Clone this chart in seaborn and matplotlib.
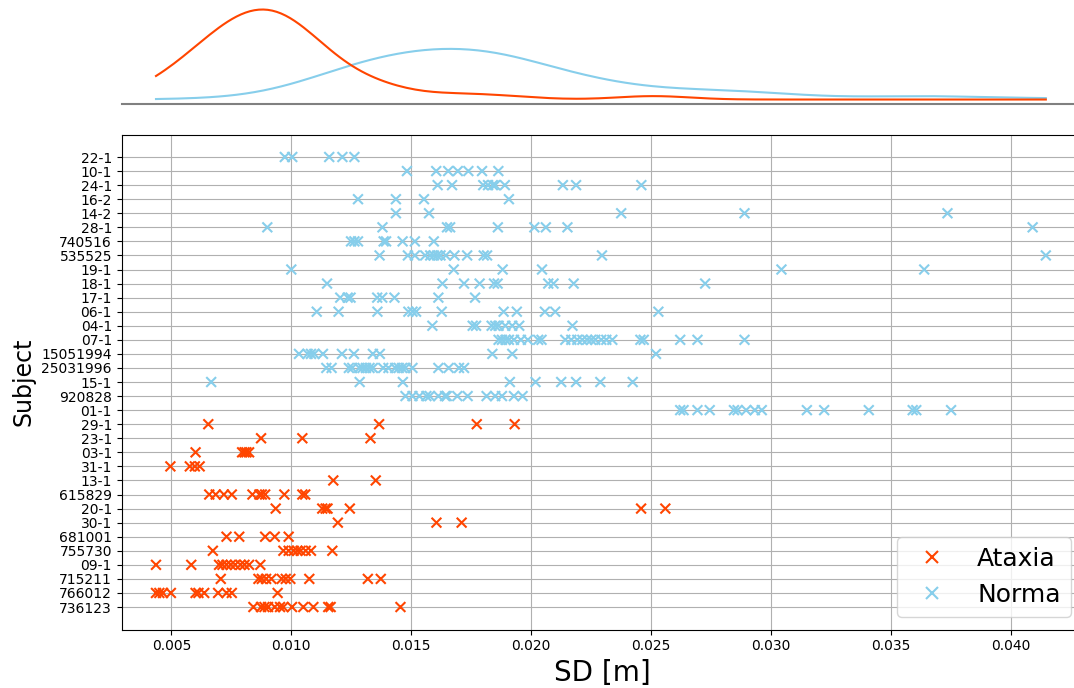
import numpy as np
import pandas as pd
import matplotlib
matplotlib.use("Agg")
import matplotlib.pyplot as plt
import seaborn as sns
from matplotlib.ticker import MultipleLocator

# ---- data ----
groups = ["Ataxia", "Norma"]
colors = ["#FF4500", "#87CEEB"]

ataxia_subjects = ["736123", "766012", "715211", "09-1", "755730", "681001", "30-1",
                   "20-1", "615829", "13-1", "31-1", "03-1", "23-1", "29-1"]
ataxia_values = [
    [0.00842, 0.00874, 0.00888, 0.00903, 0.00931, 0.00953, 0.00967, 0.01003, 0.0105, 0.01092, 0.01154, 0.01164, 0.01455],
    [0.00436, 0.0045, 0.00465, 0.00498, 0.00601, 0.00613, 0.00637, 0.00695, 0.0073, 0.00752, 0.00943],
    [0.00706, 0.00863, 0.00877, 0.00895, 0.00917, 0.0096, 0.00977, 0.00996, 0.01075, 0.01319, 0.01373],
    [0.00436, 0.00583, 0.00699, 0.00713, 0.0073, 0.00748, 0.00766, 0.00788, 0.00805, 0.00824, 0.00871],
    [0.00673, 0.00967, 0.00989, 0.0101, 0.01025, 0.01039, 0.0106, 0.01082, 0.01171],
    [0.0073, 0.00783, 0.00891, 0.00931, 0.00989],
    [0.01194, 0.01605, 0.0171],
    [0.00935, 0.01129, 0.01143, 0.01151, 0.01244, 0.02458, 0.02559],
    [0.00658, 0.00685, 0.00719, 0.00752, 0.00838, 0.00867, 0.00877, 0.00891, 0.00971, 0.01046, 0.01058],
    [0.01175, 0.01352],
    [0.00496, 0.00577, 0.00598, 0.00618],
    [0.00601, 0.00795, 0.00805, 0.00813, 0.00824],
    [0.00874, 0.01046, 0.0133],
    [0.00654, 0.01366, 0.01773, 0.01931],
]

norma_subjects = ["01-1", "920828", "15-1", "25031996", "15051994", "07-1", "04-1",
                  "06-1", "17-1", "18-1", "19-1", "535525", "740516", "28-1",
                  "14-2", "16-2", "24-1", "10-1", "22-1"]
norma_values = [
    [0.02621, 0.02635, 0.02693, 0.02744, 0.02845, 0.0286, 0.02896, 0.02932, 0.02961, 0.03149, 0.03221, 0.03407, 0.0359, 0.03605, 0.0375],
    [0.01476, 0.01505, 0.01534, 0.01563, 0.01577, 0.01613, 0.01641, 0.01648, 0.01692, 0.01735, 0.01814, 0.0185, 0.01878, 0.01928, 0.01964],
    [0.00666, 0.01285, 0.01465, 0.01911, 0.02018, 0.02125, 0.02187, 0.02288, 0.02423],
    [0.01146, 0.01168, 0.0124, 0.01254, 0.01283, 0.01297, 0.01311, 0.01326, 0.0134, 0.01383, 0.01405, 0.01433, 0.01448, 0.01462, 0.01476, 0.01505, 0.01613, 0.01656, 0.01699, 0.0172],
    [0.01032, 0.01068, 0.01082, 0.01096, 0.01132, 0.01211, 0.01261, 0.0134, 0.01369, 0.01838, 0.01921, 0.0252],
    [0.01864, 0.01878, 0.01893, 0.01907, 0.01928, 0.01957, 0.01986, 0.02029, 0.02043, 0.02142, 0.02167, 0.02192, 0.02213, 0.02233, 0.0225, 0.02267, 0.02292, 0.02313, 0.02338, 0.02455, 0.02469, 0.02621, 0.02693, 0.02889],
    [0.01588, 0.01756, 0.0177, 0.01835, 0.0185, 0.01864, 0.01892, 0.01921, 0.0195, 0.02172],
    [0.01106, 0.01197, 0.01359, 0.01488, 0.01505, 0.0152, 0.01627, 0.01885, 0.0194, 0.02057, 0.021, 0.0253],
    [0.01204, 0.01235, 0.01247, 0.01358, 0.01379, 0.0143, 0.01613, 0.01766],
    [0.01149, 0.0163, 0.0172, 0.01785, 0.01845, 0.0186, 0.02071, 0.02093, 0.02177, 0.02725],
    [0.01, 0.01677, 0.01881, 0.02045, 0.03043, 0.03638],
    [0.01368, 0.01486, 0.01515, 0.01558, 0.01579, 0.01594, 0.01608, 0.01622, 0.01644, 0.0168, 0.01733, 0.01802, 0.01816, 0.02295, 0.04145],
    [0.01249, 0.01263, 0.01278, 0.01385, 0.01395, 0.01464, 0.01515, 0.01594],
    [0.009, 0.0138, 0.01649, 0.01662, 0.01861, 0.02013, 0.02061, 0.02151, 0.0409],
    [0.01436, 0.01574, 0.02375, 0.02889, 0.03735],
    [0.01278, 0.01436, 0.01553, 0.01907],
    [0.0161, 0.0167, 0.018, 0.0182, 0.0184, 0.0185, 0.0189, 0.02132, 0.02187, 0.02459],
    [0.01482, 0.01604, 0.01654, 0.01694, 0.01738, 0.01795, 0.01863],
    [0.00973, 0.01004, 0.01158, 0.01213, 0.01263],
]

x_ticks = [0.005, 0.010, 0.015, 0.020, 0.025, 0.030, 0.035, 0.040]

# ---- build long table ----
rows = []
for grp, subs, vals in [("Ataxia", ataxia_subjects, ataxia_values),
                        ("Norma", norma_subjects, norma_values)]:
    for s, vs in zip(subs, vals):
        for v in vs:
            rows.append({"Subject": s, "SD": v, "Group": grp})
df = pd.DataFrame(rows)

# ---- figure ----
plt.rcParams["font.family"] = ["DejaVu Sans"]
fig = plt.figure(figsize=(10.74, 6.88), dpi=100)
ax = fig.add_axes([0.1133, 0.0850, 0.8951, 0.7195])
ax_top = fig.add_axes([0.1133, 0.8488, 0.8951, 0.1439], sharex=ax)

palette = dict(zip(groups, colors))

sns.scatterplot(data=df, x="SD", y="Subject", hue="Group", palette=palette,
                marker="x", s=50, linewidth=1.5, ax=ax, zorder=3)
# first subject at the bottom, as in the reference
if ax.yaxis_inverted():
    ax.invert_yaxis()
ax.set_axisbelow(True)
ax.grid(True, color="#b0b0b0", linewidth=0.8)
ax.set_xticks(x_ticks)
ax.set_xlim(0.00293, 0.0430)
ax.tick_params(axis="x", labelsize=10)
ax.tick_params(axis="y", labelsize=10)
ax.set_xlabel("SD [m]", fontsize=20)
ax.set_ylabel("Subject", fontsize=17)
h, l = ax.get_legend_handles_labels()
for hd in h:
    try:
        hd.set_markersize(8)
        hd.set_markeredgewidth(1.5)
    except Exception:
        pass
ax.legend(h, l, loc="lower right", fontsize=18)

# ---- top marginal KDE ----
sns.kdeplot(data=df, x="SD", hue="Group", palette=palette, cut=0,
            common_grid=True, common_norm=False, ax=ax_top, legend=False,
            linewidth=1.5)
for line in ax_top.lines:
    line.sticky_edges.y[:] = []
ax_top.relim()
ax_top.autoscale_view(scalex=False)
for side in ["top", "right", "left"]:
    ax_top.spines[side].set_visible(False)
ax_top.spines["bottom"].set_color("#808080")
ax_top.spines["bottom"].set_linewidth(1.5)
ax_top.set_yticks([])
ax_top.set_ylabel("")
ax_top.set_xlabel("")
ax_top.tick_params(axis="x", bottom=False, labelbottom=False)
ax_top.set_facecolor("none")

fig.savefig("out.png", dpi=100)
